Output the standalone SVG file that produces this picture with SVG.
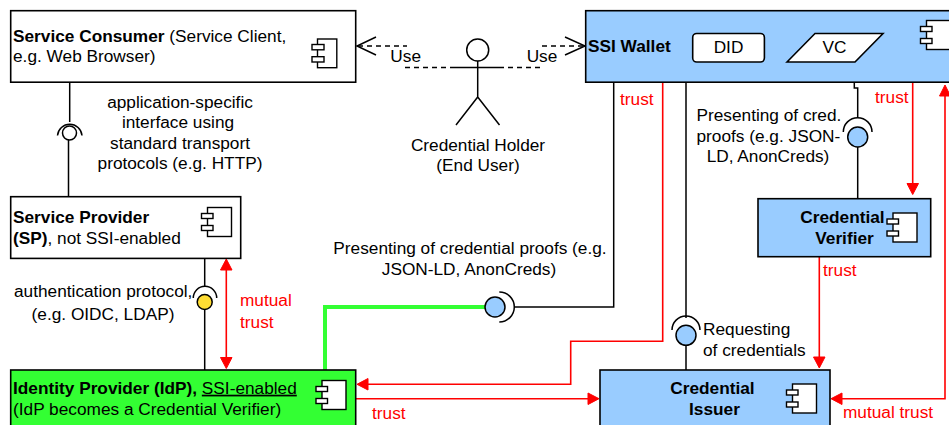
<svg xmlns="http://www.w3.org/2000/svg" width="949" height="425" viewBox="0 0 949 425">
<defs>
<style>
text{font-family:"Liberation Sans",Arial,sans-serif;font-size:17.25px;fill:#000}
.b{font-weight:700}
.m{text-anchor:middle}
.r{fill:#f00}
.box{stroke:#000;stroke-width:1.6;fill:#fff}
.blue{fill:#99ccff}
.green{fill:#33ff33}
.ln{fill:none;stroke:#000;stroke-width:1.5}
.red{fill:none;stroke:#f00;stroke-width:1.6}
.ah{fill:#f00;stroke:#f00;stroke-width:1}
.dash{fill:none;stroke:#000;stroke-width:1.4;stroke-dasharray:5 4}
.ic{fill:#fff;stroke:#000;stroke-width:1.4}
</style>
<g id="icon"><rect class="ic" x="6" y="0" width="24" height="29"/><rect class="ic" x="0" y="6" width="11.5" height="5"/><rect class="ic" x="0" y="18" width="11.5" height="5"/></g>
</defs>
<rect width="949" height="425" fill="#fff"/>
<g id="connectors">
<path class="ln" d="M69.7 82V122M68.5 140V196.5"/>
<path class="ln" d="M57.5 135.5A12.3 12.3 0 0 1 82 135.5"/>
<circle class="ln" cx="69.5" cy="133" r="7"/>
<path class="ln" d="M204.7 258V287M204.7 310V370"/>
<path class="ln" d="M193.3 298A11.7 11.7 0 0 1 216.7 298"/>
<circle cx="204.7" cy="302" r="7.5" fill="#ffdd33" stroke="#000" stroke-width="1.5"/>
<path d="M325 370V307H486" fill="none" stroke="#33ff33" stroke-width="4"/>
<path class="ln" d="M613.7 82V307H514"/>
<path class="ln" d="M499.3 292A15 15 0 0 1 499.3 322"/>
<circle class="blue" cx="495" cy="307" r="10" stroke="#000" stroke-width="1.5"/>
<path class="ln" d="M686 82V318M686 345V370"/>
<path class="ln" d="M672 330A14 14 0 0 1 700 330"/>
<circle class="blue" cx="686" cy="335.3" r="10" stroke="#000" stroke-width="1.5"/>
<path class="ln" d="M854.3 82V88H857.7V118M857.7 147V198"/>
<path class="ln" d="M843.3 132A14.35 14.35 0 0 1 872 132"/>
<circle class="blue" cx="857.7" cy="137" r="10" stroke="#000" stroke-width="1.5"/>
<path class="dash" d="M358 46H407M405 67.5H452M499 67.5H543M542 46H584"/>
<path class="ln" d="M376 37L357 46L376 55M565 37L585 46L565 55"/>
<path class="red" d="M662.7 82V341.3H570.7V384.3H367"/>
<path class="ah" d="M357 384.3L368 378.5V390Z"/>
<path class="red" d="M356 398.7H589"/>
<path class="ah" d="M599 398.7L588 393V404.5Z"/>
<path class="red" d="M226.3 268V359"/>
<path class="ah" d="M226.3 259L220.5 270H232Z"/>
<path class="ah" d="M226.3 368.5L220.5 357.5H232Z"/>
<path class="red" d="M912.7 82V184"/>
<path class="ah" d="M912.7 194.5L907 183.5H918.5Z"/>
<path class="red" d="M819.3 256V358"/>
<path class="ah" d="M819.3 368L813.5 357H825Z"/>
<path class="red" d="M945 95V398.7H841"/>
<path class="ah" d="M945 85L939.5 96H950.5Z"/>
<path class="ah" d="M831 398.7L842 393V404.5Z"/>
</g>
<g id="actor-holder">
<circle class="ln" cx="477.7" cy="50" r="11"/>
<path class="ln" d="M477.7 61V97M452 67.5H499M477.7 97L456 125M477.7 97L499.5 125"/>
<text class="m" x="478" y="150.5">Credential Holder</text>
<text class="m" x="478" y="171">(End User)</text>
</g>
<g id="node-service-consumer">
<rect class="box" x="10.7" y="10.7" width="345" height="71.5"/>
<rect class="ic" x="317.5" y="39" width="19.3" height="28.7"/>
<rect class="ic" x="312" y="44.5" width="12" height="5.3"/>
<rect class="ic" x="312" y="56.7" width="12" height="5.3"/>
<text x="13" y="41.7"><tspan class="b">Service Consumer</tspan> (Service Client,</text>
<text x="13" y="62.3">e.g. Web Browser)</text>
</g>
<g id="node-service-provider">
<rect class="box" x="10.7" y="196.7" width="230" height="61.7"/>
<use href="#icon" x="201.5" y="207.5"/>
<text class="b" x="13" y="223">Service Provider</text>
<text x="13" y="243.7"><tspan class="b">(SP)</tspan>, not SSI-enabled</text>
</g>
<g id="node-identity-provider">
<rect class="box green" x="10.7" y="370" width="345" height="60"/>
<use href="#icon" x="316" y="380.5"/>
<text x="13" y="393.7"><tspan class="b">Identity Provider (IdP),</tspan> <tspan text-decoration="underline">SSI-enabled</tspan></text>
<text x="13" y="414.7">(IdP becomes a Credential Verifier)</text>
</g>
<g id="node-ssi-wallet">
<rect class="box blue" x="585.7" y="10.7" width="370" height="71.5"/>
<use href="#icon" x="920.5" y="20.5"/>
<text class="b" x="588" y="52">SSI Wallet</text>
<rect class="box" x="692.7" y="33.5" width="71.7" height="28.5" rx="4"/>
<text class="m" x="728.5" y="52.7">DID</text>
<path class="box" d="M787 62L815 33.5H883L855 62Z"/>
<text class="m" x="834.5" y="52.7">VC</text>
</g>
<g id="node-credential-verifier">
<rect class="box blue" x="758" y="198.7" width="172.7" height="58"/>
<use href="#icon" x="887" y="213"/>
<text class="b m" x="842.5" y="223">Credential</text>
<text class="b m" x="844.5" y="243.7">Verifier</text>
</g>
<g id="node-credential-issuer">
<rect class="box blue" x="600" y="370" width="230" height="60"/>
<use href="#icon" x="786.5" y="384"/>
<text class="b m" x="712.5" y="393.7">Credential</text>
<text class="b m" x="714.5" y="414.7">Issuer</text>
</g>
<g id="labels">
<text class="m" x="405.7" y="61.7">Use</text>
<text class="m" x="542" y="61.7">Use</text>
<text class="m" x="180" y="107.5">application-specific</text>
<text class="m" x="178" y="128">interface using</text>
<text class="m" x="180" y="148.5">standard transport</text>
<text class="m" x="180" y="169">protocols (e.g. HTTP)</text>
<text x="14" y="297">authentication protocol,</text>
<text class="m" x="103" y="319.5">(e.g. OIDC, LDAP)</text>
<text class="m" x="470" y="253.7">Presenting of credential proofs (e.g.</text>
<text class="m" x="469" y="275.3">JSON-LD, AnonCreds)</text>
<text x="696.5" y="120.7">Presenting of cred.</text>
<text x="696.5" y="141.5">proofs (e.g. JSON-</text>
<text class="m" x="768" y="161.7">LD, AnonCreds)</text>
<text x="703" y="335">Requesting</text>
<text x="703" y="356">of credentials</text>
<text class="r" x="620" y="105">trust</text>
<text class="r" x="875" y="103">trust</text>
<text class="r" x="823" y="276">trust</text>
<text class="r" x="372" y="419">trust</text>
<text class="r" x="240" y="306">mutual</text>
<text class="r" x="240" y="327.7">trust</text>
<text class="r" x="843" y="418">mutual trust</text>
</g>
</svg>
